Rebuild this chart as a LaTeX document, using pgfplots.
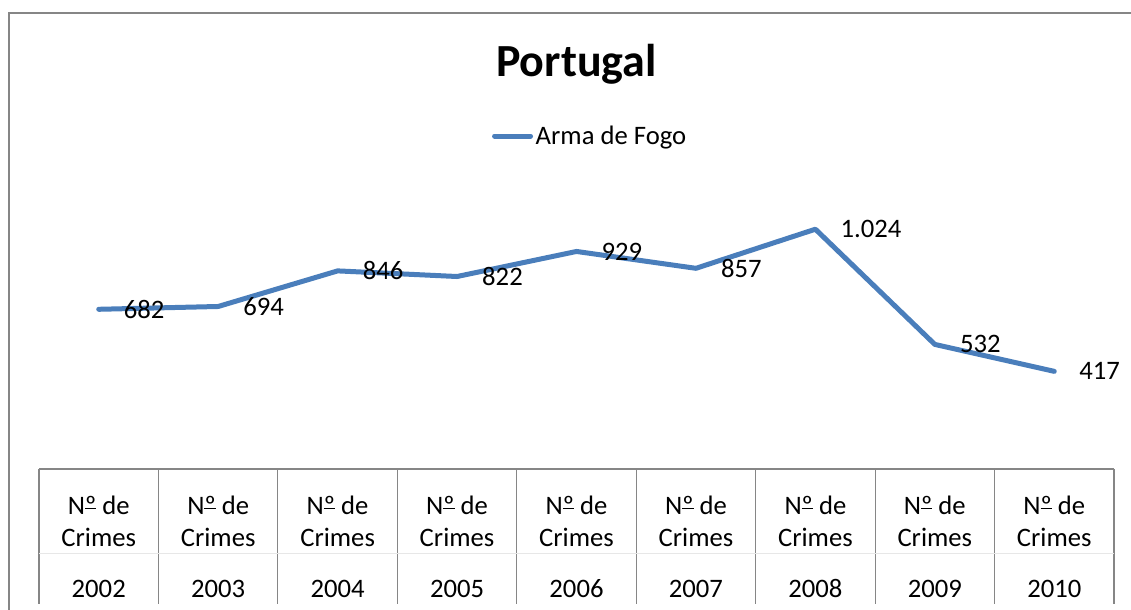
\documentclass[border=0pt]{standalone}
\usepackage{fontspec}
\setmainfont{Carlito}
\usepackage{pgfplots}
\pgfplotsset{compat=1.18}
\definecolor{excelblue}{RGB}{74,126,187}
\definecolor{framegray}{RGB}{134,134,134}
\newcommand\ordo{{\setbox0\hbox{º}\rlap{\copy0}\raisebox{0.2em}{\rule{\wd0}{0.055em}}}}
\newcommand\cat[1]{N\ordo{} de\\Crimes\\[14.25pt]#1}
\begin{document}
\begin{tikzpicture}
\path[use as bounding box] (0pt,0pt) rectangle (848.25pt,457.5pt);
\draw[framegray, line width=1.2pt] (6.75pt,-2pt) -- (6.75pt,447.75pt) -- (850pt,447.75pt);
\begin{axis}[
  at={(29.25pt,105.75pt)}, anchor=south west, scale only axis,
  width=806.25pt, height=210.75pt,
  xmin=-0.5, xmax=8.5, ymin=0, ymax=1200,
  axis x line*=bottom, axis y line=none,
  x axis line style={draw=framegray, line width=0.8pt},
  clip=false,
  xtick={0,...,8},
  major tick length=0pt,
  xticklabels={{\cat{2002}},{\cat{2003}},{\cat{2004}},{\cat{2005}},{\cat{2006}},{\cat{2007}},{\cat{2008}},{\cat{2009}},{\cat{2010}}},
  xticklabel style={font=\fontsize{20}{24}\selectfont, align=center, anchor=north, inner sep=0pt, yshift=-20pt},
  title={Portugal},
  title style={at={(0.5,1.37)}, anchor=base, font=\bfseries\fontsize{34.5}{41}\selectfont, inner sep=0pt},
  legend style={at={(0.513,1.185)}, anchor=center, draw=none, fill=none, font=\fontsize{20}{24}\selectfont},
  legend image code/.code={\draw[#1] (0pt,0pt) -- (27pt,0pt);},
]
\pgfplotsinvokeforeach{-0.5,0.5,1.5,2.5,3.5,4.5,5.5,6.5,7.5,8.5}{
  \draw[framegray, line width=0.8pt] (axis cs:#1,0) -- ++(0pt,-101.25pt);
}
\draw[framegray!20, line width=0.6pt] (axis cs:-0.5,0) ++(0pt,-63pt) -- ++(806.25pt,0pt);
\addplot[excelblue, line width=3.75pt, line join=round, line cap=round, no markers,
  nodes near coords, point meta=explicit symbolic,
  nodes near coords style={anchor=west, inner sep=0pt, xshift=17pt, text=black, font=\fontsize{20}{24}\selectfont}]
  table[x=x, y=y, meta=label] {
x y label
0 682 682
1 694 694
2 846 846
3 822 822
4 929 929
5 857 857
6 1024 1.024
7 532 532
8 417 417
};
\addlegendentry{Arma de Fogo}
\end{axis}
\end{tikzpicture}
\end{document}
